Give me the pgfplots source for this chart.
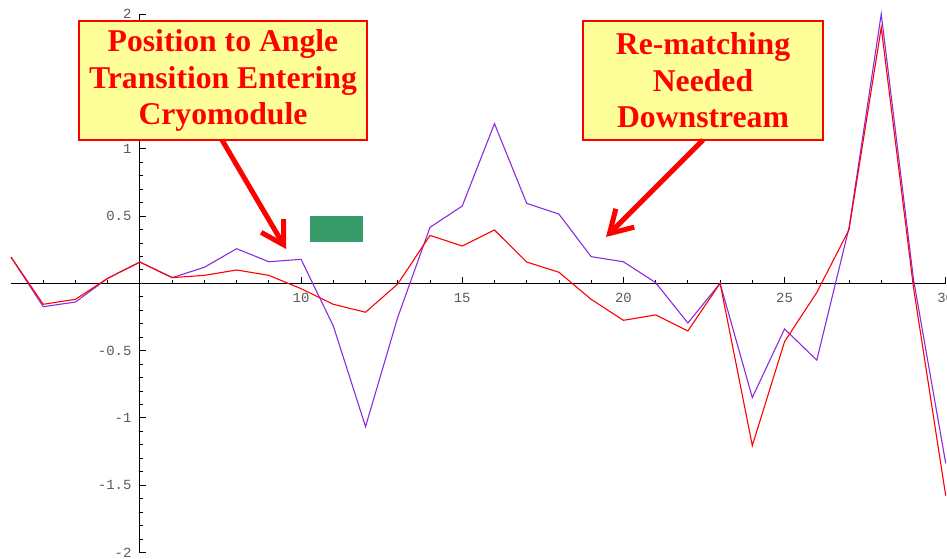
\documentclass[border=0pt]{standalone}
\usepackage{fontspec}
\usepackage{pgfplots}
\pgfplotsset{compat=1.18}
\usetikzlibrary{arrows.meta}
\setmainfont{Liberation Serif}
\newfontfamily\ticfont{Liberation Mono}

\definecolor{purp}{RGB}{138,43,226}
\definecolor{boxyellow}{RGB}{255,255,153}
\definecolor{tickgray}{RGB}{90,90,90}
\definecolor{blockgreen}{RGB}{54,155,104}

% x, purple curve, red curve
\pgfplotstableread{
x  purple  red
1   0.195   0.195
2  -0.174  -0.156
3  -0.139  -0.119
4   0.037   0.037
5   0.158   0.158
6   0.042   0.042
7   0.119   0.059
8   0.257   0.099
9   0.160   0.059
10  0.178  -0.040
11 -0.317  -0.156
12 -1.065  -0.215
13 -0.252  -0.005
14  0.416   0.356
15  0.574   0.277
16  1.186   0.396
17  0.594   0.158
18  0.514   0.082
19  0.198  -0.119
20  0.160  -0.275
21  0.005  -0.235
22 -0.295  -0.354
23  0.000   0.000
24 -0.849  -1.206
25 -0.339  -0.434
26 -0.571  -0.068
27  0.412   0.398
28  2.000   1.900
29  0.030  -0.030
30 -1.337  -1.578
}\datatable

\begin{document}
\begin{tikzpicture}
\useasboundingbox (0,0) rectangle (947bp,559bp);
\begin{axis}[
    at={(11bp,6.5bp)}, anchor=south west,
    scale only axis,
    width=934.7bp, height=538.4bp,
    xmin=1, xmax=30, ymin=-2, ymax=2,
    enlargelimits=false,
    clip=false,
    axis x line=middle,
    axis y line=left,
    axis y line shift=-128.9bp,
    axis line style={black, line width=1bp, -},
    xtick={10,15,20,25,30},
    xticklabels={10,15,20,25,30},
    minor xtick={2,3,4,6,7,8,9,11,12,13,14,16,17,18,19,21,22,23,24,26,27,28,29},
    ytick={-2,-1.5,-1,-0.5,0.5,1,1.5,2},
    yticklabels={-2,-1.5,-1,-0.5,0.5,1,1.5,2},
    minor ytick={-1.9,-1.8,-1.7,-1.6,-1.4,-1.3,-1.2,-1.1,-0.9,-0.8,-0.7,-0.6,-0.4,-0.3,-0.2,-0.1,0.1,0.2,0.3,0.4,0.6,0.7,0.8,0.9,1.1,1.2,1.3,1.4,1.6,1.7,1.8,1.9},
    tick align=inside,
    major tick length=6bp,
    minor tick length=3.5bp,
    tick style={black, line width=0.8bp},
    ticklabel style={font=\ticfont\fontsize{14}{14}\selectfont, text=tickgray},
    xticklabel style={yshift=-6bp},
    yticklabel style={xshift=-5bp},
]
\fill[blockgreen] (axis cs:10.28,0.309) rectangle (axis cs:11.91,0.5);
\addplot[purp, line width=1.1bp] table[x=x, y=purple] {\datatable};
\addplot[red, line width=1.1bp] table[x=x, y=red] {\datatable};
\end{axis}

% annotation boxes
\draw[red, line width=2bp, fill=boxyellow] (79bp,419bp) rectangle (367bp,538bp);
\node[text=red, font=\bfseries\fontsize{31.8}{36.5}\selectfont, align=center]
    at (223bp,478.5bp) {Position to Angle\\Transition Entering\\Cryomodule};
\draw[red, line width=2bp, fill=boxyellow] (583bp,419bp) rectangle (823bp,538bp);
\node[text=red, font=\bfseries\fontsize{31.8}{36.5}\selectfont, align=center]
    at (703bp,478.5bp) {Re-matching\\Needed\\Downstream};

% arrows
\draw[red, line width=5bp, -{Straight Barb[length=22bp,width=26bp]}]
    (222bp,419bp) -- (286bp,310bp);
\draw[red, line width=5bp, -{Straight Barb[length=22bp,width=26bp]}]
    (703bp,419bp) -- (606bp,322bp);
\end{tikzpicture}
\end{document}
